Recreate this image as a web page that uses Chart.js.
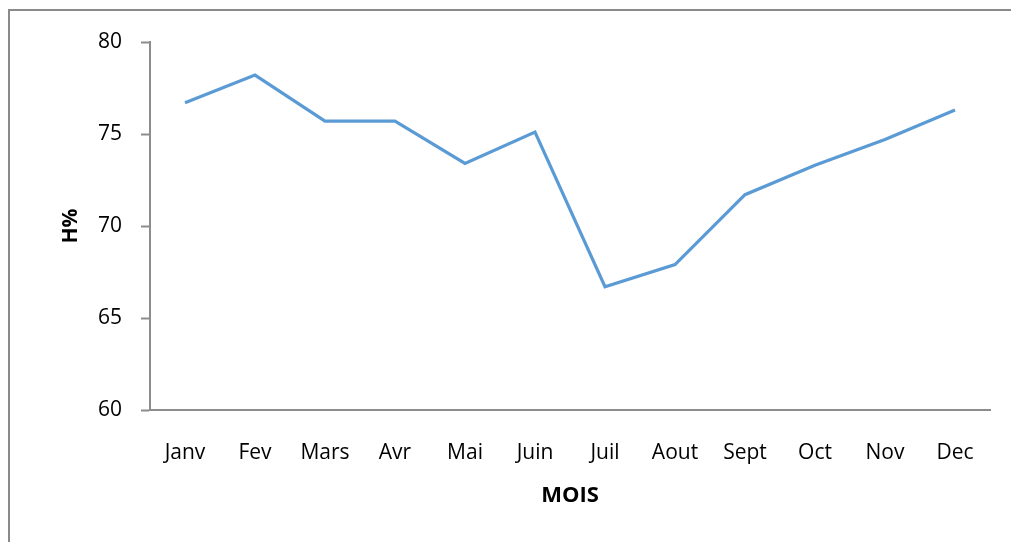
<!DOCTYPE html>
<html>
<head>
<meta charset="utf-8">
<script src="https://cdn.jsdelivr.net/npm/chart.js@4/dist/chart.umd.min.js"></script>
<style>
  html, body { margin: 0; padding: 0; background: #ffffff; }
  #wrap { width: 1011px; height: 542px; position: relative; }
</style>
</head>
<body>
<div id="wrap"><canvas id="c" width="1011" height="542"></canvas></div>
<script>
// ---- Data ----
const categories = ["Janv", "Fev", "Mars", "Avr", "Mai", "Juin", "Juil", "Aout", "Sept", "Oct", "Nov", "Dec"];
const humidityValues = [76.7, 78.2, 75.7, 75.7, 73.4, 75.1, 66.7, 67.9, 71.7, 73.3, 74.7, 76.3];
const yTickValues = [60, 65, 70, 75, 80];
const xAxisTitle = "MOIS";
const yAxisTitle = "H%";

const axisGray = "#8c8c8c";
const fontFamily = "'Open Sans', 'DejaVu Sans', sans-serif";

const framePlugin = {
  id: 'frame',
  beforeDraw(chart) {
    const ctx = chart.ctx;
    ctx.save();
    ctx.strokeStyle = '#8a8a8a';
    ctx.lineWidth = 2;
    ctx.beginPath();
    ctx.moveTo(9, 560);
    ctx.lineTo(9, 10);
    ctx.lineTo(1020, 10);
    ctx.stroke();
    ctx.restore();
  }
};

new Chart(document.getElementById('c'), {
  type: 'line',
  data: {
    labels: categories,
    datasets: [{
      data: humidityValues,
      borderColor: '#5b9bd5',
      backgroundColor: '#5b9bd5',
      borderWidth: 3.2,
      pointRadius: 0,
      pointHoverRadius: 0,
      tension: 0,
      fill: false
    }]
  },
  options: {
    responsive: false,
    animation: false,
    devicePixelRatio: 1,
    layout: { padding: { left: 0, top: 42, right: 21, bottom: 0 } },
    plugins: {
      legend: { display: false },
      tooltip: { enabled: false },
      title: { display: false }
    },
    scales: {
      x: {
        type: 'category',
        offset: true,
        grid: { display: false, drawTicks: false },
        border: { display: true, color: axisGray, width: 2 },
        ticks: {
          color: '#000000',
          font: { family: fontFamily, size: 21 },
          padding: 30,
          maxRotation: 0,
          autoSkip: false
        },
        title: {
          display: true,
          text: xAxisTitle,
          color: '#000000',
          font: { family: fontFamily, size: 22, weight: 'bold', lineHeight: 1 },
          padding: { top: 0, bottom: 35 }
        },
        afterFit(scale) {
          scale.height = 132;
          scale.paddingLeft = 0;
          scale.paddingRight = 0;
        }
      },
      y: {
        min: 60,
        max: 80,
        afterBuildTicks(scale) {
          scale.ticks = yTickValues.map(v => ({ value: v }));
        },
        grid: {
          display: true,
          drawOnChartArea: false,
          drawTicks: true,
          tickLength: 9,
          tickWidth: 2,
          tickColor: axisGray
        },
        border: { display: true, color: axisGray, width: 2 },
        ticks: {
          color: '#000000',
          font: { family: fontFamily, size: 21 },
          padding: 19
        },
        title: {
          display: true,
          text: yAxisTitle,
          color: '#000000',
          font: { family: fontFamily, size: 21, weight: 'bold', lineHeight: 1 },
          padding: { top: 61, bottom: 0 }
        },
        afterFit(scale) {
          scale.width = 150;
          scale.paddingTop = 0;
          scale.paddingBottom = 0;
        }
      }
    }
  },
  plugins: [framePlugin]
});
</script>
</body>
</html>
